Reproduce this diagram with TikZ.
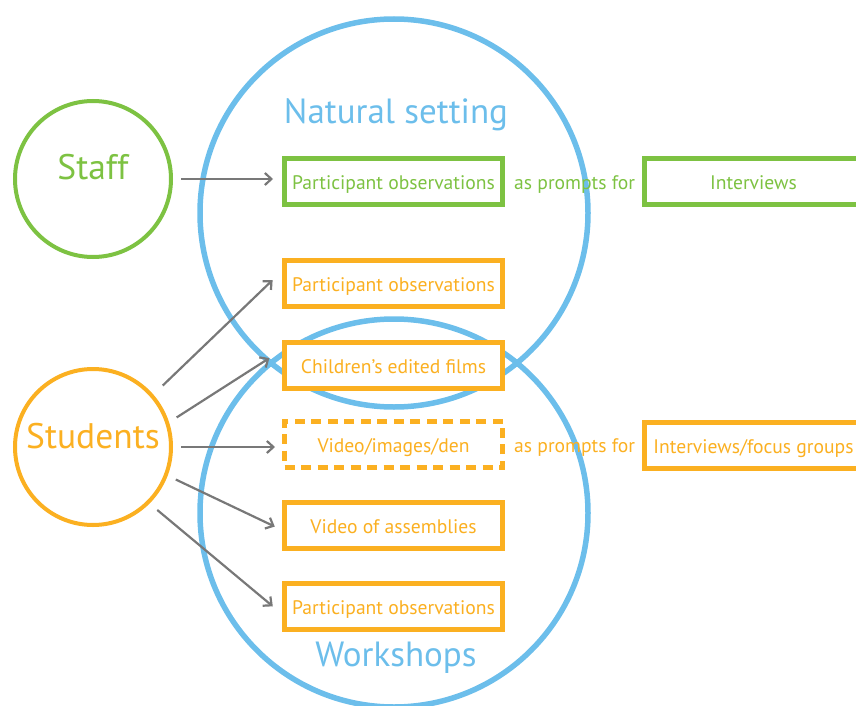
\documentclass[tikz,border=0pt]{standalone}
\usepackage{fontspec}
\setmainfont{PT Sans}
\definecolor{leaf}{RGB}{125,194,66}
\definecolor{amber}{RGB}{251,176,33}
\definecolor{sky}{RGB}{108,190,235}
\definecolor{linkgray}{RGB}{120,120,120}
\tikzstyle{every node}+=[inner sep=0pt]
\tikzstyle{setting}=[circle,draw=sky,line width=5.5pt,minimum size=388pt]
\tikzstyle{setname}=[text=sky,font=\fontsize{35}{40}\selectfont,text height=24.5pt,text depth=0pt]
\tikzstyle{group}=[circle,draw,line width=4pt,minimum size=156pt]
\tikzstyle{groupname}=[font=\fontsize{35.5}{40}\selectfont,text height=25pt,text depth=0pt]
\tikzstyle{method}=[fill=white,line width=5pt,minimum width=218pt,minimum height=46pt,font=\fontsize{19.6}{22}\selectfont,text height=16pt,text depth=0pt]
\tikzstyle{staffbox}=[method,draw=leaf,text=leaf]
\tikzstyle{pupilbox}=[method,draw=amber,text=amber]
\tikzstyle{prompt}=[font=\fontsize{19.6}{22}\selectfont,text height=16pt,text depth=0pt]
\tikzstyle{link}=[draw=linkgray,line width=2.2pt,-{Straight Barb[length=6.5pt,width=12pt]}]
\usetikzlibrary{arrows.meta,calc,positioning}

\begin{document}
\begin{tikzpicture}[x=1pt,y=-1pt]
\useasboundingbox (0,0) rectangle (856,706);

% the two settings
\node[setting] (natural) at (394,213) {};
\node[setting] (workshops) at (394,513) {};
\node[setname] (naturalname) at (396,111.5) {Natural setting};
\node[setname] (workshopsname) at (396,654) {Workshops};

% participants
\node[group,leaf] (staff) at (93,179) {};
\node[groupname,leaf] (staffname) at (93,167) {Staff};
\node[group,amber] (students) at (93,447) {};
\node[groupname,amber] (studentsname) at (93,436) {Students};

% data sources
\node[staffbox] (pobs1) at (393.5,181) {Participant observations};
\node[pupilbox] (pobs2) at (393.5,283) {Participant observations};
\node[pupilbox] (films) at (393.5,365) {Children’s edited films};
\node[pupilbox,dash pattern=on 10pt off 6.5pt] (media) at (393.5,444) {Video/images/den};
\node[pupilbox] (assemblies) at (393.5,525) {Video of assemblies};
\node[pupilbox] (pobs3) at (393.5,606) {Participant observations};

\node[prompt,leaf,right=9pt of pobs1] (prompt1) {as prompts for};
\node[prompt,amber,right=9pt of media] (prompt2) {as prompts for};
\node[staffbox] (interviews) at (753.5,181) {Interviews};
\node[pupilbox] (focus) at (753.5,445) {Interviews/focus groups};

% arrows
\draw[link,shorten <=8pt,shorten >=9pt] (staff.east) -- (staff.east -| pobs1.west);
\draw[link,shorten <=13pt,shorten >=13pt] (students.41) -- ([yshift=12pt]pobs2.west);
\draw[link,shorten <=9pt,shorten >=15pt] (students.18) -- ([yshift=15pt]films.west);
\draw[link,shorten <=8pt,shorten >=7pt] (students.east) -- (students.east -| media.west);
\draw[link,shorten <=9pt,shorten >=8pt] (students.-21) -- ([yshift=-5pt]assemblies.west);
\draw[link,shorten <=10pt,shorten >=12pt] (students.-45) -- ([yshift=-8pt]pobs3.west);
\end{tikzpicture}
\end{document}
